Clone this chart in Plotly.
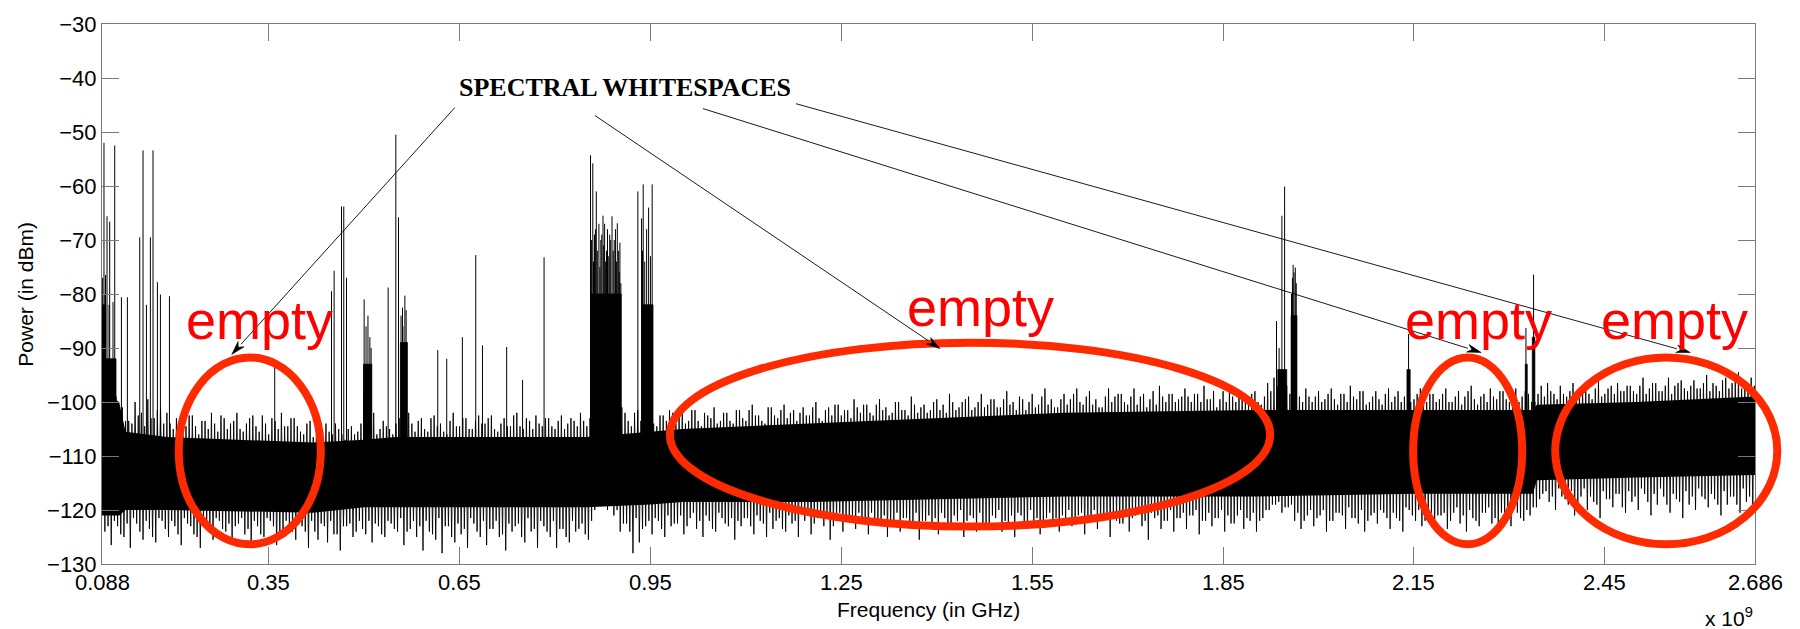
import math
import plotly.graph_objects as go

# ---------------------------------------------------------------------------
# Spectrum sweep, 0.088 - 2.686 GHz (power in dBm)
# ---------------------------------------------------------------------------

# Noise-floor peak-hold per 10 MHz bin: two maxima and two minima per bin,
# read in the order max_a, min_a, max_b, min_b across the bin.
bin_start_ghz = 0.09
bin_width_ghz = 0.01

floor_max_a_dbm = [
    -93, -96, -99, -101, -103.5, -100, -102, -99.5, -103, -101,
    -102, -105, -103, -104.5, -102.5, -106, -103.5, -102, -105.5, -103,
    -104, -102, -105.5, -103, -104.5, -102.5, -106, -103.5, -102, -104.5,
    -103, -105.5, -104, -106.5, -105, -104, -106, -105, -107, -104.5,
    -105.5, -99, -104, -106, -103.5, -105, -104, -101, -102, -105.5,
    -103, -105.5, -102.5, -104, -106, -102, -104.5, -103, -105, -102.5,
    -104, -102.5, -105.5, -103, -104.5, -102, -105, -103.5, -102.5, -104.5,
    -103, -105, -102.5, -104, -103.5, -102, -104.5, -99, -98, -98,
    -98, -99, -102, -104.5, -101.5, -103, -102, -104.5, -102.5, -101.5,
    -104, -102, -103.5, -101.5, -104.5, -102.5, -101, -103.5, -102, -104,
    -101.5, -103.5, -100.5, -102.5, -104, -101, -103, -100.5, -102, -103.5,
    -101, -102.5, -100, -103.5, -101, -100.5, -102.5, -101.5, -99.5, -102,
    -100.5, -102.5, -99.5, -101, -102, -100, -101.5, -99, -102, -100.5,
    -101.5, -99.5, -100.5, -98.5, -101.5, -100, -99, -101, -98.5, -100.5,
    -99.5, -101, -98, -100, -99, -101.5, -98.5, -100.5, -97.5, -99.5,
    -101, -98.5, -99.5, -97.5, -100.5, -98, -99.5, -101, -97.5, -99,
    -98.5, -100.5, -97.5, -99, -101, -98, -97, -100, -98.5, -99.5,
    -97.5, -100, -98.5, -97, -99.5, -101, -98, -97.5, -100, -98.5,
    -99.5, -98, -100.5, -96.5, -95.5, -96, -97, -96.5, -99, -97.5,
    -100, -98, -99.5, -97.5, -100.5, -98.5, -97, -99.5, -98, -100,
    -98, -100.5, -97.5, -99, -100, -98, -99.5, -97.5, -100, -98.5,
    -99.5, -97.5, -100, -98, -99, -97, -100.5, -98.5, -97.5, -99.5,
    -98, -100, -97.5, -99, -98.5, -100, -97, -96.5, -98.5, -97,
    -99, -96.5, -98, -97.5, -99.5, -96, -98.5, -97, -96.5, -98,
    -97, -98.5, -95.5, -97.5, -96.5, -98, -95.5, -97, -96, -98,
    -96, -97.5, -95, -96.5, -98, -95.5, -96.5, -94.5, -97, -95.5,
]

floor_min_a_dbm = [
    -124, -126.5, -123, -125, -127, -122.5, -125.5, -123.5, -126, -122,
    -125, -123, -126.5, -122.5, -124.5, -127, -123, -125.5, -122, -124,
    -126, -122.5, -124.5, -127, -123, -125, -122, -126.5, -124, -123,
    -125.5, -123, -127, -124, -122.5, -126, -124.5, -127.5, -123, -125,
    -122, -124.5, -126, -123, -125, -122.5, -124, -126.5, -123.5, -125,
    -127.5, -124, -125.5, -128, -123, -126, -124.5, -127, -122.5, -125,
    -126.5, -123.5, -125, -127.5, -124, -122.5, -126, -124, -127, -123,
    -125, -127, -123.5, -126, -124, -122.5, -125.5, -120, -119, -120,
    -121, -124, -122.5, -128, -126, -123, -124.5, -122, -125, -123,
    -122.5, -124.5, -121.5, -123.5, -125, -122, -124, -121.5, -123, -125.5,
    -123, -121.5, -124.5, -122, -125, -123.5, -121.5, -124, -122.5, -125,
    -122, -124.5, -121.5, -123, -125.5, -122, -124, -121, -123.5, -122.5,
    -124.5, -121.5, -123, -125, -122, -124, -121.5, -123.5, -125.5, -122,
    -123, -124.5, -121.5, -123.5, -122, -125, -121, -124, -122.5, -123.5,
    -121.5, -124, -122.5, -125, -121, -123.5, -122, -124.5, -121.5, -123,
    -124, -121.5, -123, -121, -124.5, -122, -123.5, -121, -125, -122,
    -122.5, -124, -121, -123, -125.5, -121.5, -123.5, -122, -124, -121.5,
    -123.5, -121, -124.5, -122, -123, -121.5, -124, -122.5, -121, -123.5,
    -122, -124, -121.5, -120, -119, -120.5, -119.5, -122, -123.5, -121,
    -123, -121, -124, -122, -120.5, -123.5, -121.5, -122.5, -124, -121,
    -122.5, -120.5, -123.5, -121.5, -124, -120, -122, -123, -121, -123.5,
    -121, -123.5, -120.5, -122.5, -124, -121.5, -123, -120.5, -122.5, -124,
    -121.5, -123, -120.5, -122, -121, -119.5, -117, -118.5, -120, -117.5,
    -119, -121, -117.5, -120, -118.5, -121.5, -118, -119.5, -117, -120.5,
    -118.5, -120, -117, -121, -119, -117.5, -120.5, -118, -121.5, -119,
    -120, -117.5, -119.5, -118, -121, -119, -117.5, -120.5, -118.5, -119.5,
]

floor_max_b_dbm = [
    -97, -99, -101, -103.5, -104, -102.5, -104.5, -103, -101.5, -104,
    -104, -103, -105, -102.5, -104.5, -103.5, -105, -104, -102.5, -105,
    -103.5, -105, -104, -102.5, -105.5, -104, -103, -105, -104.5, -103,
    -104.5, -106, -103.5, -105, -106.5, -105.5, -104, -106, -105, -106,
    -104, -100, -102, -105, -104.5, -106, -103, -102, -104, -103.5,
    -105, -103, -104.5, -105.5, -103.5, -104.5, -103, -105, -103.5, -104,
    -103, -105, -104, -104.5, -102.5, -104.5, -103, -105, -104, -103,
    -104.5, -103.5, -105, -103, -104.5, -103.5, -103, -100, -99, -99,
    -99, -101, -103.5, -102, -103.5, -101.5, -104, -102.5, -103.5, -102,
    -102.5, -104, -101.5, -103.5, -102, -103, -104, -102, -103.5, -101.5,
    -103, -101.5, -102.5, -103.5, -101, -102.5, -101.5, -103, -101.5, -102,
    -102.5, -101, -103, -101.5, -102.5, -100.5, -101.5, -103, -101, -100.5,
    -102, -100.5, -101.5, -102.5, -100, -101.5, -102.5, -100.5, -101, -102,
    -100, -101.5, -102, -100, -101, -99.5, -101.5, -100, -101, -99.5,
    -101, -99.5, -100.5, -101.5, -99.5, -100, -101, -99, -100.5, -101,
    -99.5, -100.5, -98.5, -100, -99, -100.5, -101, -99, -100, -98.5,
    -100, -99, -100.5, -98.5, -99.5, -100.5, -99, -98.5, -100, -99,
    -99, -98.5, -100, -99.5, -98, -99.5, -100, -99, -98.5, -100,
    -98.5, -100, -99, -98, -97, -97.5, -98.5, -98, -100, -99,
    -99, -100, -98.5, -99.5, -98.5, -100, -99, -98, -100.5, -99,
    -99.5, -98.5, -100, -98, -99, -100, -98.5, -99.5, -98.5, -100,
    -98.5, -100, -99, -100.5, -98, -99.5, -99, -100, -99, -98,
    -99.5, -98.5, -100, -98, -100, -98.5, -99, -98, -99.5, -98.5,
    -98, -99, -97, -98.5, -97.5, -99, -97.5, -98.5, -98, -97,
    -98, -97, -98.5, -96.5, -98, -97, -98.5, -96.5, -97.5, -97,
    -97.5, -96.5, -98, -97, -96, -97.5, -96, -97.5, -96.5, -97,
]

floor_min_b_dbm = [
    -123, -122, -124.5, -122.5, -121.5, -124, -122, -125, -121.5, -123.5,
    -122, -124.5, -121.5, -123, -125, -122, -124, -121.5, -123.5, -122.5,
    -123, -121.5, -123.5, -122, -124.5, -121.5, -123, -125, -122, -124,
    -122.5, -124, -122, -125.5, -123, -122, -124.5, -123, -122.5, -124,
    -123.5, -122, -122.5, -124.5, -122, -123.5, -121.5, -124, -122, -123,
    -122, -124.5, -121.5, -123, -125, -122.5, -123.5, -121.5, -124, -122,
    -123.5, -122, -124.5, -122.5, -123, -125, -121.5, -123.5, -122, -124,
    -122, -123.5, -125, -122, -123.5, -124.5, -122, -119, -118, -119,
    -120, -122.5, -124, -121.5, -123.5, -122, -121.5, -123.5, -121, -122.5,
    -121, -123, -120.5, -122, -121, -123.5, -120.5, -122.5, -121.5, -122,
    -121.5, -123, -121, -122.5, -120.5, -122, -123.5, -121, -122, -120.5,
    -121, -122.5, -120.5, -121.5, -123, -120.5, -122, -121.5, -120.5, -122.5,
    -120.5, -122, -121, -122.5, -120.5, -121.5, -123, -120.5, -122, -121,
    -121.5, -120.5, -122.5, -121, -120, -122, -121.5, -120.5, -122.5, -121,
    -120, -122, -121, -120.5, -122.5, -120, -121.5, -122, -120.5, -121.5,
    -121, -120, -122, -120.5, -121.5, -120, -122, -120.5, -121, -122.5,
    -120.5, -121.5, -120, -122, -120.5, -121, -122, -120, -121.5, -120.5,
    -121, -120, -122, -120.5, -121.5, -120, -121, -122.5, -120, -121.5,
    -120.5, -122, -120, -119, -118.5, -119.5, -119, -120.5, -122, -120,
    -121.5, -120, -122, -120.5, -121, -119.5, -121.5, -120, -122, -120.5,
    -120, -121.5, -120.5, -122, -119.5, -121, -120, -122, -120.5, -121,
    -120.5, -122, -119.5, -121, -120, -122, -120.5, -119.5, -121.5, -120.5,
    -121, -119.5, -121.5, -120, -119.5, -118, -116.5, -117.5, -116, -118,
    -116.5, -118.5, -116, -117.5, -119, -116.5, -118, -117, -119.5, -116.5,
    -117.5, -116, -118.5, -117, -116, -119, -117, -118.5, -116.5, -117.5,
    -116, -118, -117, -119, -116.5, -117.5, -119, -116, -117.5, -118.5,
]

# Dense part of the noise floor (where the trace is solid)
core_ghz = [0.088, 0.115, 0.125, 0.19, 0.42, 0.50, 0.55, 0.85, 0.95, 1.00,
            1.20, 1.40, 1.60, 1.90, 2.15, 2.337, 2.343, 2.50, 2.686]
core_top_dbm = [-98, -100, -105.5, -106.5, -107.5, -107, -106.5, -106.5, -105.5, -105,
                -104, -103, -102, -101.5, -101.5, -101.5, -100.5, -100, -99]
core_bot_dbm = [-121, -121, -120, -120, -120.5, -119.5, -119.5, -119.5, -119, -118.5,
                -118.5, -118, -117.5, -117.5, -117, -117, -114.5, -114, -113.5]

# Occupied bands (start GHz, stop GHz, dense level dBm)
band_start_ghz = [0.088, 0.094, 0.499, 0.557, 0.857, 0.937, 1.936, 1.957, 2.139, 2.325, 2.336]
band_stop_ghz = [0.094, 0.110, 0.512, 0.568, 0.904, 0.954, 1.950, 1.966, 2.144, 2.328, 2.340]
band_level_dbm = [-82, -92, -93, -89, -80, -82, -94, -84, -94, -93, -88]

# Narrow carriers (frequency GHz, peak dBm)
carrier_ghz = [
    0.0890, 0.0911, 0.0925, 0.0935, 0.0959, 0.0990, 0.1001, 0.1053, 0.1080,
    0.1185, 0.1279, 0.1473, 0.1525, 0.1578, 0.1640, 0.1682, 0.1751, 0.1798,
    0.1940,
    0.3595,
    0.4487, 0.4528, 0.4644, 0.4680, 0.4723,
    0.5000, 0.5030, 0.5060, 0.5090, 0.5110, 0.5377, 0.5498, 0.5540,
    0.5580, 0.5603, 0.5610, 0.5640, 0.5660,
    0.6157, 0.6298, 0.6544, 0.6754, 0.6860, 0.7240, 0.7490, 0.7828,
    0.8558, 0.8575, 0.8594, 0.8605, 0.8620, 0.8635, 0.8649, 0.8665, 0.8690,
    0.8705, 0.8720, 0.8735, 0.8754, 0.8765, 0.8780, 0.8795, 0.8810, 0.8825,
    0.8845, 0.8860, 0.8875, 0.8896, 0.8915, 0.8930, 0.8950, 0.8965, 0.8979,
    0.9000, 0.9010, 0.9020, 0.9035,
    0.9302, 0.9360, 0.9375, 0.9386, 0.9410, 0.9440, 0.9471, 0.9500, 0.9527,
    1.9340, 1.9380, 1.9424, 1.9467, 1.9575, 1.9590, 1.9601, 1.9615, 1.9635,
    1.9650,
    2.1415, 2.3260, 2.3380,
]
carrier_peak_dbm = [
    -77.0, -52.0, -80.0, -76.5, -65.6, -82.0, -66.6, -81.5, -52.5,
    -80.6, -80.6, -69.5, -53.4, -82.0, -69.5, -53.4, -77.8, -80.1,
    -80.4,
    -93.5,
    -79.5, -75.7, -63.8, -63.8, -77.0,
    -81.0, -86.0, -84.0, -88.0, -90.0, -78.8, -50.5, -65.8,
    -84.0, -82.5, -86.0, -80.3, -83.0,
    -90.4, -92.0, -88.0, -72.8, -89.5, -89.8, -95.9, -73.2,
    -54.3, -70.0, -55.8, -74.0, -69.0, -68.0, -61.0, -72.0, -67.0,
    -75.0, -70.0, -69.0, -65.5, -71.0, -67.0, -74.0, -72.0, -68.0,
    -73.0, -69.0, -70.0, -65.6, -72.0, -70.0, -68.0, -74.0, -66.9,
    -72.0, -76.0, -70.5, -78.0,
    -61.0, -66.0, -72.0, -59.7, -74.0, -68.0, -64.0, -73.0, -59.7,
    -85.0, -90.0, -65.5, -60.1, -80.0, -77.0, -74.6, -76.0, -75.1,
    -78.0,
    -87.4, -86.3, -76.4,
]

x_tick_vals = [0.088, 0.35, 0.65, 0.95, 1.25, 1.55, 1.85, 2.15, 2.45, 2.686]
x_tick_text = ["0.088", "0.35", "0.65", "0.95", "1.25", "1.55", "1.85", "2.15", "2.45", "2.686"]
y_tick_vals = [-30, -40, -50, -60, -70, -80, -90, -100, -110, -120, -130]

# ---------------------------------------------------------------------------
# Layout geometry (pixels in the 1800 x 629 page)
# ---------------------------------------------------------------------------
FIG_W, FIG_H = 1800, 629
PLOT_L, PLOT_R, PLOT_T, PLOT_B = 102.3, 1754.7, 15.0, 564.0
PLOT_W = PLOT_R - PLOT_L
PLOT_H = PLOT_B - PLOT_T


def paper_x(px):
    return (px - PLOT_L) / PLOT_W


def paper_y(py):
    return (PLOT_B - py) / PLOT_H


BAND_FLOOR_DBM = -112
CARRIER_BASE_DBM = -108

fig = go.Figure()
no_line = dict(width=0, color="black")

# Solid core of the noise floor
fig.add_trace(go.Scatter(x=core_ghz, y=core_bot_dbm, mode="lines", line=no_line,
                         hoverinfo="skip"))
fig.add_trace(go.Scatter(x=core_ghz, y=core_top_dbm, mode="lines", fill="tonexty",
                         fillcolor="black", line=no_line, hoverinfo="skip"))

# Occupied bands as filled blocks
bx, by = [], []
for f0, f1, lvl in zip(band_start_ghz, band_stop_ghz, band_level_dbm):
    bx += [f0, f0, f1, f1, f0, None]
    by += [BAND_FLOOR_DBM, lvl, lvl, BAND_FLOOR_DBM, BAND_FLOOR_DBM, None]
fig.add_trace(go.Scatter(x=bx, y=by, mode="lines", fill="toself", fillcolor="black",
                         line=dict(width=0.8, color="black"), hoverinfo="skip"))

# Noise-floor trace: max / min / max / min within each bin
step = bin_width_ghz / 4
sx, sy = [], []
for i, vals in enumerate(zip(floor_max_a_dbm, floor_min_a_dbm,
                             floor_max_b_dbm, floor_min_b_dbm)):
    f = bin_start_ghz + i * bin_width_ghz
    for k, v in enumerate(vals):
        sx.append(f + k * step)
        sy.append(v)
fig.add_trace(go.Scatter(x=sx, y=sy, mode="lines",
                         line=dict(width=0.9, color="black"), hoverinfo="skip"))

# Narrow carriers
cx, cy = [], []
for f, p in zip(carrier_ghz, carrier_peak_dbm):
    cx += [f, f, None]
    cy += [CARRIER_BASE_DBM, p, None]
fig.add_trace(go.Scatter(x=cx, y=cy, mode="lines",
                         line=dict(width=1, color="black"), hoverinfo="skip"))

# ---------------------------------------------------------------------------
# Whitespace markers
# ---------------------------------------------------------------------------
RED = "#ff2a00"
ellipses_px = [  # x0, x1, y0, y1 (stroke centre line)
    (179, 321, 354, 544),
    (670, 1270, 339, 526),
    (1413, 1522, 354, 544),
    (1555, 1777, 354, 544),
]
shapes = []
for x0, x1, y0, y1 in ellipses_px:
    shapes.append(dict(type="circle", xref="paper", yref="paper",
                       x0=paper_x(x0), x1=paper_x(x1),
                       y0=paper_y(y1), y1=paper_y(y0),
                       line=dict(color=RED, width=8), layer="above"))

# Pointer arrows from the caption: (tail x, tail y, head x, head y)
HEAD_LEN, HEAD_HALF = 14.0, 4.0
for tx, ty, hx, hy in [(455, 100, 232, 351), (595, 108, 940, 345),
                       (703, 101, 1481, 349), (796, 96, 1690, 349)]:
    d = math.hypot(hx - tx, hy - ty)
    ux, uy = (hx - tx) / d, (hy - ty) / d
    bxp, byp = hx - ux * HEAD_LEN, hy - uy * HEAD_LEN
    shapes.append(dict(type="line", xref="paper", yref="paper",
                       x0=paper_x(tx), y0=paper_y(ty),
                       x1=paper_x(bxp), y1=paper_y(byp),
                       line=dict(color="black", width=0.9), layer="above"))
    lx, ly = bxp - uy * HEAD_HALF, byp + ux * HEAD_HALF
    rx, ry = bxp + uy * HEAD_HALF, byp - ux * HEAD_HALF
    nx, ny = hx - ux * HEAD_LEN * 0.7, hy - uy * HEAD_LEN * 0.7
    path = (f"M {paper_x(hx)},{paper_y(hy)} L {paper_x(lx)},{paper_y(ly)} "
            f"L {paper_x(nx)},{paper_y(ny)} L {paper_x(rx)},{paper_y(ry)} Z")
    shapes.append(dict(type="path", xref="paper", yref="paper", path=path,
                       fillcolor="black", line=dict(color="black", width=0.6),
                       layer="above"))

annotations = []
# "empty" labels: (centre x, baseline y)
for cxp, base in [(259.5, 333), (980.5, 320), (1478.5, 333), (1674.5, 333)]:
    annotations.append(dict(text="empty", xref="paper", yref="paper",
                            x=paper_x(cxp), y=paper_y(base - 17),
                            xanchor="center", yanchor="middle", showarrow=False,
                            font=dict(family="Liberation Sans, Arial", size=54,
                                      color="#ff0000")))

annotations.append(dict(text="<b>SPECTRAL WHITESPACES</b>", xref="paper", yref="paper",
                        x=paper_x(625), y=paper_y(79.5), xanchor="center",
                        yanchor="middle", showarrow=False,
                        font=dict(family="Liberation Serif, Times New Roman",
                                  size=26, color="black")))

# Frequency tick labels, placed under their ticks
TICK_FONT = dict(family="Liberation Sans, Arial", size=22, color="black")
for v, t in zip(x_tick_vals, x_tick_text):
    annotations.append(dict(text=t, xref="x", yref="paper", x=v, y=paper_y(583),
                            xanchor="center", yanchor="middle", showarrow=False,
                            font=TICK_FONT))

# Axis titles and exponent
AX_FONT = dict(family="Liberation Sans, Arial", size=21, color="black")
annotations.append(dict(text="Frequency (in GHz)", xref="paper", yref="paper",
                        x=0.5, y=paper_y(610), xanchor="center", yanchor="middle",
                        showarrow=False, font=AX_FONT))
annotations.append(dict(text="Power (in dBm)", xref="paper", yref="paper",
                        x=paper_x(25), y=0.5, xanchor="center", yanchor="middle",
                        textangle=-90, showarrow=False, font=AX_FONT))
annotations.append(dict(text="x 10<sup>9</sup>", xref="paper", yref="paper",
                        x=paper_x(1755), y=paper_y(618), xanchor="right",
                        yanchor="middle", showarrow=False, font=AX_FONT))

AXIS_GREY = "#7a7a7a"

fig.update_layout(
    width=FIG_W, height=FIG_H,
    margin=dict(l=PLOT_L, r=FIG_W - PLOT_R, t=PLOT_T, b=FIG_H - PLOT_B, pad=0),
    paper_bgcolor="white", plot_bgcolor="white",
    showlegend=False,
    shapes=shapes, annotations=annotations,
    xaxis=dict(range=[0.088, 2.686], tickvals=x_tick_vals, showticklabels=False,
               ticks="inside", ticklen=17, tickwidth=1, tickcolor=AXIS_GREY,
               showline=True, linecolor=AXIS_GREY, linewidth=1, mirror="ticks",
               showgrid=False, zeroline=False),
    yaxis=dict(range=[-130, -30], tickvals=y_tick_vals,
               ticks="inside", ticklen=17, tickwidth=1, tickcolor=AXIS_GREY,
               showline=True, linecolor=AXIS_GREY, linewidth=1, mirror="ticks",
               showgrid=False, zeroline=False, tickfont=TICK_FONT),
)

fig.write_html("out.html")
